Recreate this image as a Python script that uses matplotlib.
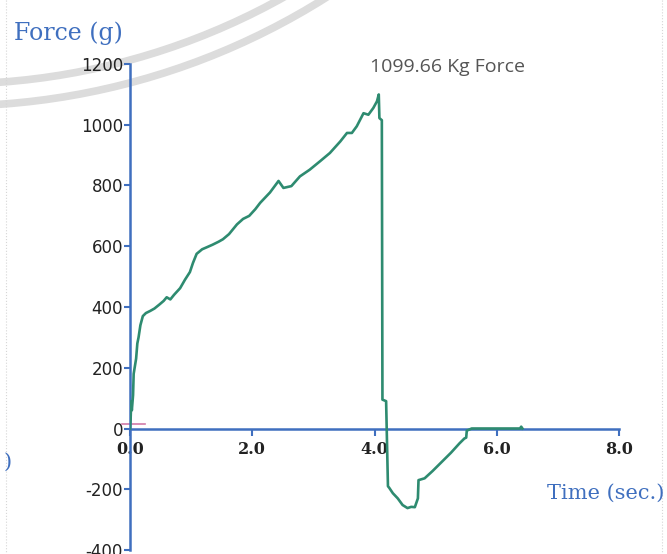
import numpy as np
import matplotlib
matplotlib.use("Agg")
import matplotlib.pyplot as plt
from matplotlib.patches import Circle

# force trace read from the tensile tester (time in s, force in g)
time_s = [0.00, 0.01, 0.02, 0.03, 0.05, 0.06, 0.08, 0.10, 0.12, 0.14,
          0.17, 0.21, 0.26, 0.33, 0.40, 0.48, 0.55, 0.60, 0.66, 0.72,
          0.82, 0.90, 0.98, 1.03, 1.09, 1.18, 1.26, 1.35, 1.45, 1.52,
          1.62, 1.75, 1.85, 1.95, 2.05, 2.13, 2.29, 2.43, 2.51, 2.64,
          2.78, 2.94, 3.11, 3.27, 3.44, 3.55, 3.63, 3.71, 3.82, 3.90,
          3.98, 4.04, 4.07, 4.08, 4.12, 4.13, 4.19, 4.22, 4.24, 4.30,
          4.38, 4.46, 4.54, 4.60, 4.66, 4.71, 4.72, 4.82, 4.95, 5.11,
          5.25, 5.39, 5.47, 5.50, 5.51, 5.59, 6.38, 6.40, 6.42]
force_g = [0, 30, 90, 60, 110, 180, 205, 230, 280, 300,
           340, 370, 380, 387, 395, 408, 420, 432, 425, 440,
           462, 490, 515, 545, 575, 590, 597, 605, 615, 623,
           640, 672, 690, 700, 722, 743, 777, 815, 792, 798,
           830, 852, 880, 907, 945, 973, 973, 995, 1038, 1033,
           1055, 1077, 1099.66, 1022, 1015, 95, 90, -190, -195, -213,
           -230, -252, -262, -258, -259, -230, -170, -164, -140, -108,
           -80, -49, -33, -30, -7, 0, 0, 6, 0]

# trigger threshold marker
thresh_t = [-0.13, 0.25]
thresh_f = [14, 14]

x_ticks = [0, 2, 4, 6, 8]
x_labels = ["0.0", "2.0", "4.0", "6.0", "8.0"]
y_ticks = [-400, -200, 0, 200, 400, 600, 800, 1000, 1200]

blue = "#3f6fbf"
green = "#2e8b70"
W, H = 667, 554

fig = plt.figure(figsize=(W / 100, H / 100), dpi=100)

# background layer in pixel units: stamp rings and page edges
bg = fig.add_axes([0, 0, 1, 1], zorder=0)
bg.set_xlim(0, W)
bg.set_ylim(H, 0)
bg.axis("off")
for r in (681, 703):
    bg.add_patch(Circle((-49, -597), r, fill=False, lw=5.5, ec="#dcdcdc"))
for xp in (6, 662):
    bg.plot([xp, xp], [0, H], ls=":", lw=0.8, color="#d6d6d6")
bg.text(4, 462, ")", color=blue, fontsize=15, family="DejaVu Serif",
        va="center", ha="left")

ax = fig.add_axes([130 / W, 4 / H, (619 - 130) / W, (550 - 64) / H], zorder=2)
ax.patch.set_alpha(0)

ax.plot(time_s, force_g, color=green, lw=1.9, zorder=3)
ax.plot(thresh_t, thresh_f, color="#d27aa8", lw=1.2, clip_on=False, zorder=2)

peak = max(force_g)
peak_t = time_s[force_g.index(peak)]
ax.text(peak_t - 0.14, 1190, f"{peak:.2f} Kg Force", color="#555555",
        fontsize=14, family="Open Sans", ha="left", va="center")

ax.set_xlim(0, 8)
ax.set_ylim(-400, 1200)

for side in ("top", "right"):
    ax.spines[side].set_visible(False)
ax.spines["bottom"].set_position(("data", 0))
for side in ("left", "bottom"):
    ax.spines[side].set_color(blue)
    ax.spines[side].set_linewidth(1.8)

ax.set_xticks(x_ticks)
ax.set_xticklabels(x_labels, family="DejaVu Serif", fontsize=11.5,
                   fontweight="bold", color="#222222")
ax.set_yticks(y_ticks)
ax.set_yticklabels([str(v) for v in y_ticks],
                   family=["Liberation Sans Narrow", "DejaVu Sans"],
                   fontsize=12, color="#222222")
ax.tick_params(axis="x", direction="out", length=5, width=1.5, color=blue, pad=4)
ax.tick_params(axis="y", direction="out", length=4, width=1.5, color=blue, pad=1)

fig.text(14 / W, 1 - 33 / H, "Force (g)", color=blue, fontsize=17,
         family="DejaVu Serif", ha="left", va="center")
fig.text(547 / W, 1 - 493 / H, "Time (sec.)", color=blue, fontsize=15,
         family="DejaVu Serif", ha="left", va="center")

fig.savefig("out.png", dpi=100)
